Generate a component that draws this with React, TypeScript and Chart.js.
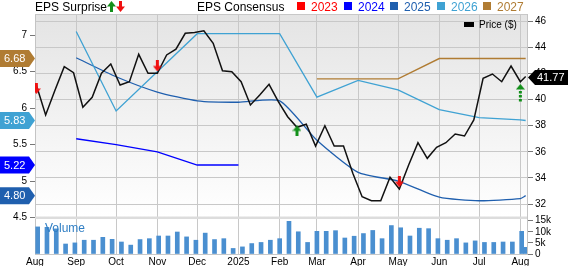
import React, { useEffect, useRef } from 'react';
import { Chart, registerables } from 'chart.js';

Chart.register(...registerables);

// ---- Data (days since 2024-08-01) ----
const MONTH_DAYS = [0, 31, 61, 92, 122, 153, 184, 212, 243, 273, 304, 334, 365];
const MONTH_LABELS = ['Aug', 'Sep', 'Oct', 'Nov', 'Dec', '2025', 'Feb', 'Mar', 'Apr', 'May', 'Jun', 'Jul', 'Aug'];

const PRICE_DAYS = [1, 8, 15, 22, 29, 36, 43, 50, 57, 64, 71, 78, 85, 92, 99, 106, 113, 120, 127, 134, 141, 148, 155, 162, 169, 176, 183, 190, 197, 204, 211, 218, 225, 232, 239, 246, 253, 260, 267, 274, 281, 288, 295, 302, 309, 316, 323, 330, 337, 344, 351, 358, 365, 369];
const PRICE = [41.12, 38.82, 40.71, 42.52, 42.06, 39.41, 40.18, 42.02, 42.73, 41.12, 41.37, 43.47, 42.02, 42.02, 43.42, 43.86, 45.08, 45.15, 45.28, 44.31, 42.21, 42.14, 41.37, 39.59, 40.35, 41.17, 39.84, 38.69, 37.88, 38.11, 36.44, 38.0, 36.44, 36.44, 34.35, 32.56, 32.25, 32.25, 34.05, 33.15, 34.99, 36.7, 35.5, 36.35, 36.7, 37.36, 37.21, 38.44, 41.63, 41.96, 41.37, 42.57, 41.37, 41.77];

const VOL_DAYS = [2, 9, 16, 23, 30, 37, 44, 51, 58, 65, 72, 79, 86, 93, 100, 107, 114, 121, 128, 135, 142, 149, 156, 163, 170, 177, 184, 191, 198, 205, 212, 219, 226, 233, 240, 247, 254, 261, 268, 275, 282, 289, 296, 303, 310, 317, 324, 331, 338, 345, 352, 359, 366, 369];
const VOLUME_K = [12.2, 12.0, 11.3, 4.5, 5.0, 6.2, 6.2, 7.5, 6.6, 5.4, 4.0, 6.5, 6.9, 8.1, 8.1, 9.9, 7.7, 6.2, 9.4, 6.5, 6.9, 2.5, 3.2, 4.7, 5.2, 6.2, 6.9, 14.7, 10.0, 5.2, 10.2, 10.2, 10.5, 7.2, 8.0, 9.2, 10.6, 6.9, 12.8, 11.8, 8.1, 11.6, 11.4, 6.9, 6.2, 6.9, 5.0, 5.9, 5.2, 5.2, 5.4, 5.4, 10.2, 3.0];

const EPS24_DAYS = [31, 61, 92, 122, 153];
const EPS24 = [5.58, 5.5, 5.4, 5.22, 5.22];
const EPS25_DAYS = [31, 61, 92, 122, 153, 184, 212, 243, 273, 304, 334, 365, 369];
const EPS25 = [6.69, 6.43, 6.22, 6.1, 6.08, 6.1, 5.56, 5.12, 5.0, 4.78, 4.73, 4.76, 4.8];
const EPS26_DAYS = [31, 61, 122, 153, 184, 212, 243, 273, 304, 334, 365, 369];
const EPS26 = [7.05, 5.96, 7.02, 7.02, 7.02, 6.15, 6.38, 6.25, 5.98, 5.87, 5.84, 5.83];
const EPS27_DAYS = [212, 243, 273, 304, 334, 365, 369];
const EPS27 = [6.4, 6.4, 6.4, 6.68, 6.68, 6.68, 6.68];

const SURPRISE_DAYS = [1, 92, 197, 274, 365];
const SURPRISE_PRICE = [40.85, 42.58, 37.6, 33.71, 40.47];
const SURPRISE_KIND = ['down', 'down', 'up', 'down', 'upDashed'];

const EPS_TICKS = [4.5, 5, 5.5, 6, 6.5, 7];
const PRICE_TICKS = [32, 34, 36, 38, 40, 42, 44, 46];
const VOL_TICKS = [0, 5000, 10000, 15000];

const YEARS = ['2023', '2024', '2025', '2026', '2027'];
const YEAR_COLORS = ['#ff0000', '#0000ff', '#1f5fae', '#3fa2d3', '#b07c33'];

const FONT = "'Liberation Sans', Arial, sans-serif";

function makeArrow(color: string, dir: 'up' | 'down', dashed: boolean) {
  const c = document.createElement('canvas');
  const w = 9;
  const h = dashed ? 19 : 11;
  c.width = w;
  c.height = h;
  const g = c.getContext('2d')!;
  g.fillStyle = color;
  g.save();
  if (dir === 'down') {
    g.translate(0, h);
    g.scale(1, -1);
  }
  g.beginPath();
  g.moveTo(0, 5.5);
  g.lineTo(4.5, 0);
  g.lineTo(9, 5.5);
  g.closePath();
  g.fill();
  if (dashed) {
    for (let y = 7; y < h; y += 4) g.fillRect(3, y, 3, 2.5);
  } else {
    g.fillRect(3, 5, 3, h - 5);
  }
  g.restore();
  return c;
}

export default function App() {
  const ref = useRef<HTMLCanvasElement>(null);

  useEffect(() => {
    const canvas = ref.current!;
    const arrows: Record<string, HTMLCanvasElement> = {
      up: makeArrow('#13901a', 'up', false),
      down: makeArrow('#f01010', 'down', false),
      upDashed: makeArrow('#13901a', 'up', true),
    };
    const gridColor = '#c8c8c8';

    const deco = {
      id: 'deco',
      afterLayout(chart: any) {
        const a = chart.chartArea;
        for (const id of ['yVol', 'yPrice']) {
          const s = chart.scales[id];
          s.left = a.right;
          s.right = chart.width;
          s.width = chart.width - a.right;
          s._labelItems = null;
          s._gridLineItems = null;
        }
      },
      beforeDraw(chart: any) {
        const { ctx, chartArea: a } = chart;
        const sepY = chart.scales.yEps.getPixelForValue(4.5);
        ctx.save();
        ctx.fillStyle = '#ffffff';
        ctx.fillRect(0, 0, chart.width, chart.height);
        const g = ctx.createLinearGradient(0, a.top, 0, sepY);
        g.addColorStop(0, '#e4e4e4');
        g.addColorStop(1, '#ffffff');
        ctx.fillStyle = g;
        ctx.fillRect(a.left, a.top, a.right - a.left, sepY - a.top);
        ctx.restore();
      },
      beforeDatasetsDraw(chart: any) {
        const { ctx, chartArea: a } = chart;
        const sepY = chart.scales.yEps.getPixelForValue(4.5);
        ctx.save();
        ctx.fillStyle = '#dcdcdc';
        ctx.fillRect(a.left, sepY - 1, a.right - a.left, 2.5);
        ctx.strokeStyle = gridColor;
        ctx.lineWidth = 1;
        ctx.beginPath();
        ctx.moveTo(a.left, a.top + 0.5);
        ctx.lineTo(a.right, a.top + 0.5);
        ctx.stroke();
        ctx.restore();
      },
      afterDraw(chart: any) {
        const { ctx } = chart;
        const yEps = chart.scales.yEps;
        const yPrice = chart.scales.yPrice;
        ctx.save();
        // left callouts
        const callouts = [
          { v: EPS27[EPS27.length - 1], c: YEAR_COLORS[4] },
          { v: EPS26[EPS26.length - 1], c: YEAR_COLORS[3] },
          { v: EPS24[EPS24.length - 1], c: YEAR_COLORS[1] },
          { v: EPS25[EPS25.length - 1], c: YEAR_COLORS[2] },
        ];
        ctx.font = `11px ${FONT}`;
        ctx.textBaseline = 'middle';
        ctx.textAlign = 'left';
        for (const co of callouts) {
          const y = yEps.getPixelForValue(co.v);
          ctx.fillStyle = co.c;
          ctx.beginPath();
          ctx.moveTo(0, y - 8.5);
          ctx.lineTo(29, y - 8.5);
          ctx.lineTo(35, y);
          ctx.lineTo(29, y + 8.5);
          ctx.lineTo(0, y + 8.5);
          ctx.closePath();
          ctx.fill();
          ctx.fillStyle = '#ffffff';
          ctx.fillText(co.v.toFixed(2), 4, y + 0.5);
        }
        // right price callout
        const last = PRICE[PRICE.length - 1];
        const py = yPrice.getPixelForValue(last) + 1;
        ctx.fillStyle = '#000000';
        ctx.beginPath();
        ctx.moveTo(528, py);
        ctx.lineTo(535, py - 7.5);
        ctx.lineTo(568, py - 7.5);
        ctx.lineTo(568, py + 7.5);
        ctx.lineTo(535, py + 7.5);
        ctx.closePath();
        ctx.fill();
        ctx.fillStyle = '#ffffff';
        ctx.fillText(last.toFixed(2), 537, py + 0.5);

        // top legend
        ctx.font = `12px ${FONT}`;
        ctx.textBaseline = 'alphabetic';
        ctx.fillStyle = '#000000';
        ctx.fillText('EPS Surprise', 35, 11);
        ctx.drawImage(arrows.up, 107, 1);
        ctx.drawImage(arrows.down, 116, 1);
        ctx.fillText('EPS Consensus', 197, 11);
        const sqX = [297, 344, 390, 437, 483];
        YEARS.forEach((yr, i) => {
          ctx.fillStyle = YEAR_COLORS[i];
          ctx.fillRect(sqX[i], 2, 8, 8);
          ctx.fillText(yr, sqX[i] + 14, 11);
        });
        // price legend
        ctx.fillStyle = '#000000';
        ctx.fillRect(464, 22, 10, 5);
        ctx.font = `10px ${FONT}`;
        ctx.textBaseline = 'middle';
        ctx.fillText('Price ($)', 479, 25);
        // volume label
        ctx.font = `12px ${FONT}`;
        ctx.fillStyle = '#2f7ec4';
        ctx.fillText('Volume', 45, 229);
        ctx.restore();
      },
    };

    const tickFont = { family: FONT, size: 10 };

    const chart = new Chart(canvas, {
      type: 'line',
      data: {
        datasets: [
          {
            type: 'scatter',
            yAxisID: 'yPrice',
            data: SURPRISE_DAYS.map((d, i) => ({ x: d, y: SURPRISE_PRICE[i] })),
            pointStyle: SURPRISE_KIND.map((k) => arrows[k]) as any,
            pointRadius: 5,
            showLine: false,
            clip: 0 as any,
          } as any,
          {
            type: 'line',
            yAxisID: 'yPrice',
            data: PRICE_DAYS.map((d, i) => ({ x: d, y: PRICE[i] })),
            borderColor: '#111111',
            borderWidth: 1.5,
            pointRadius: 0,
            tension: 0,
          },
          {
            type: 'line',
            yAxisID: 'yEps',
            data: EPS27_DAYS.map((d, i) => ({ x: d, y: EPS27[i] })),
            borderColor: YEAR_COLORS[4],
            borderWidth: 1.4,
            pointRadius: 0,
            tension: 0,
          },
          {
            type: 'line',
            yAxisID: 'yEps',
            data: EPS26_DAYS.map((d, i) => ({ x: d, y: EPS26[i] })),
            borderColor: YEAR_COLORS[3],
            borderWidth: 1.3,
            pointRadius: 0,
            tension: 0,
          },
          {
            type: 'line',
            yAxisID: 'yEps',
            data: EPS25_DAYS.map((d, i) => ({ x: d, y: EPS25[i] })),
            borderColor: YEAR_COLORS[2],
            borderWidth: 1.3,
            pointRadius: 0,
            tension: 0.2,
          },
          {
            type: 'line',
            yAxisID: 'yEps',
            data: EPS24_DAYS.map((d, i) => ({ x: d, y: EPS24[i] })),
            borderColor: YEAR_COLORS[1],
            borderWidth: 1.3,
            pointRadius: 0,
            tension: 0,
          },
          {
            type: 'bar',
            yAxisID: 'yVol',
            data: VOL_DAYS.map((d, i) => ({ x: d, y: VOLUME_K[i] * 1000 })),
            backgroundColor: '#4a8fd0',
            barThickness: 4,
          } as any,
        ],
      },
      options: {
        animation: false,
        responsive: false,
        maintainAspectRatio: false,
        devicePixelRatio: 1,
        layout: { padding: { top: 14, left: 0, right: 0, bottom: 0 } },
        plugins: { legend: { display: false }, tooltip: { enabled: false } },
        scales: {
          x: {
            type: 'linear',
            min: 0,
            max: 370,
            offset: false,
            afterBuildTicks: (s: any) => {
              s.ticks = MONTH_DAYS.map((v) => ({ value: v }));
            },
            afterFit: (s: any) => {
              s.height = 12;
            },
            grid: { color: gridColor, drawTicks: false, tickLength: 0, offset: false },
            border: { display: true, color: gridColor },
            ticks: {
              autoSkip: false,
              maxRotation: 0,
              padding: 2,
              color: '#000',
              font: tickFont,
              callback: (v: any) => {
                const i = MONTH_DAYS.indexOf(Number(v));
                return i >= 0 ? MONTH_LABELS[i] : '';
              },
            },
          },
          yEps: {
            position: 'left',
            min: 4.0,
            max: 7.29,
            afterBuildTicks: (s: any) => {
              s.ticks = EPS_TICKS.map((v) => ({ value: v }));
            },
            afterFit: (s: any) => {
              s.width = 35;
            },
            grid: { drawOnChartArea: false, drawTicks: true, tickLength: 5, tickColor: '#777' },
            border: { display: true, color: '#c4c4c4' },
            ticks: { padding: 3, color: '#000', font: tickFont, callback: (v: any) => String(v) },
          },
          yPrice: {
            position: 'right',
            min: 28.17,
            max: 46.56,
            afterBuildTicks: (s: any) => {
              s.ticks = PRICE_TICKS.map((v) => ({ value: v }));
            },
            afterFit: (s: any) => {
              s.width = 41;
            },
            grid: { color: gridColor, drawTicks: true, tickLength: 6, tickColor: '#777' },
            border: { display: true, color: '#c4c4c4' },
            ticks: { padding: 2, color: '#000', font: tickFont, callback: (v: any) => String(v) },
          },
          yVol: {
            position: 'right',
            min: 0,
            max: 108000,
            afterBuildTicks: (s: any) => {
              s.ticks = VOL_TICKS.map((v) => ({ value: v }));
            },
            afterFit: (s: any) => {
              s.width = 0;
            },
            grid: { drawOnChartArea: false, drawTicks: true, tickLength: 6, tickColor: '#777' },
            border: { display: false },
            ticks: {
              padding: 2,
              color: '#000',
              font: tickFont,
              callback: (v: any) => (Number(v) === 0 ? '0' : Number(v) / 1000 + 'k'),
            },
          },
        } as any,
      },
      plugins: [deco as any],
    });

    return () => chart.destroy();
  }, []);

  return (
    <div style={{ position: 'absolute', left: 0, top: 0, width: 568, height: 266 }}>
      <canvas ref={ref} width={568} height={266} style={{ width: 568, height: 266, display: 'block' }} />
    </div>
  );
}
